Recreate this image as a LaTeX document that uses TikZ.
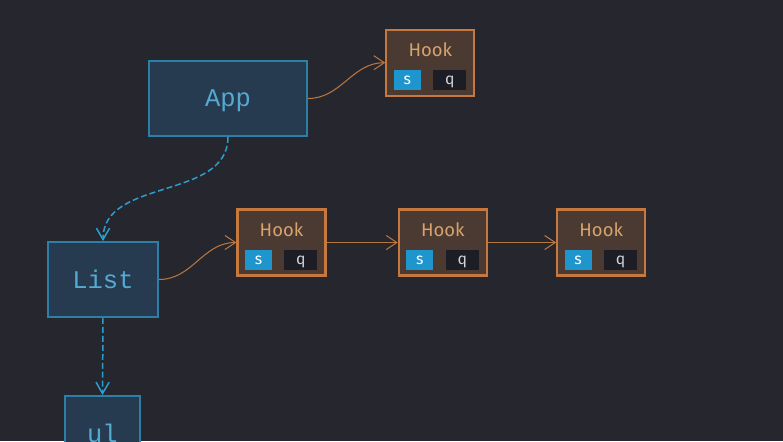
\documentclass[tikz,border=0pt]{standalone}
\usepackage{fontspec}
\setmainfont{Fira Sans}
\setmonofont{Liberation Mono}
\usepackage{tikz}
\usetikzlibrary{arrows.meta,calc}

\definecolor{bgcol}{RGB}{38,38,47}
\definecolor{compfill}{RGB}{38,58,80}
\definecolor{compedge}{RGB}{44,127,166}
\definecolor{comptext}{RGB}{85,170,210}
\definecolor{hookfill}{RGB}{75,58,50}
\definecolor{hookedge}{RGB}{198,120,62}
\definecolor{hooktxt}{RGB}{214,163,108}
\definecolor{scol}{RGB}{30,150,205}
\definecolor{qcol}{RGB}{29,29,37}
\definecolor{qtxt}{RGB}{210,210,215}
\definecolor{linkcol}{RGB}{184,118,63}
\definecolor{childcol}{RGB}{42,159,207}

\begin{document}
\begin{tikzpicture}[x=0.02cm, y=-0.02cm,
    comp/.style={draw=compedge, fill=compfill, line width=1.1pt, text=comptext,
        font=\ttfamily\fontsize{14.5}{16}\selectfont, inner sep=0pt, text depth=0pt,
        minimum height=1.5cm},
    hookbox/.style={draw=hookedge, fill=hookfill, line width=1.2pt,
        minimum width=1.76cm, minimum height=1.32cm, inner sep=0pt},
    hooktext/.style={text=hooktxt, font=\fontsize{10.5}{12}\selectfont, inner sep=0pt},
    slot/.style={minimum height=0.39cm, inner sep=0pt, text depth=0pt,
        font=\fontsize{9}{10}\selectfont},
    sslot/.style={slot, fill=scol, text=white, minimum width=0.54cm},
    qslot/.style={slot, fill=qcol, text=qtxt, minimum width=0.66cm},
    link/.style={draw=linkcol, line width=0.6pt, -{Straight Barb[length=6pt,width=8pt]}},
    child/.style={draw=childcol, line width=0.85pt, dash pattern=on 3.4pt off 1.7pt,
        -{Straight Barb[length=6.5pt,width=7.5pt]}}
]
    \useasboundingbox (0,0) rectangle (783,441);
    \clip (0,0) rectangle (783,441);
    \fill[bgcol] (0,0) rectangle (783,441); % background

    % components
    \node[comp, minimum width=3.16cm] (app) at (228,98.5) {App};
    \node[comp, minimum width=2.2cm] (list) at (103,279.5) {List};
    \node[comp, minimum width=1.5cm] (ul) at (102.5,433.5) {ul};

    % hooks
    \foreach \n/\x/\y in {h1/430.3/62.7, h2/281.5/242.5, h3/442.8/242.5, h4/601.2/242.5} {
        \node[hookbox] (\n) at (\x,\y) {};
        \node[hooktext] (\n-t) at ($(\n.north)+(0,21)$) {Hook};
        \node[sslot] (\n-s) at ($(\n.north west)+(22,51.5)$) {s};
        \node[qslot] (\n-q) at ($(\n.north west)+(64.5,51.5)$) {q};
    }

    \draw[link] (app.east) to[out=0, in=180] (h1.west);
    \draw[link] (list.east) to[out=0, in=180] (h2.west);
    \draw[link] (h2.east) -- (h3.west);
    \draw[link] (h3.east) -- (h4.west);

    \draw[child] (app.south) to[out=-90, in=90] (list.north);
    \draw[child] (list.south) -- (ul.north);
\end{tikzpicture}
\end{document}
